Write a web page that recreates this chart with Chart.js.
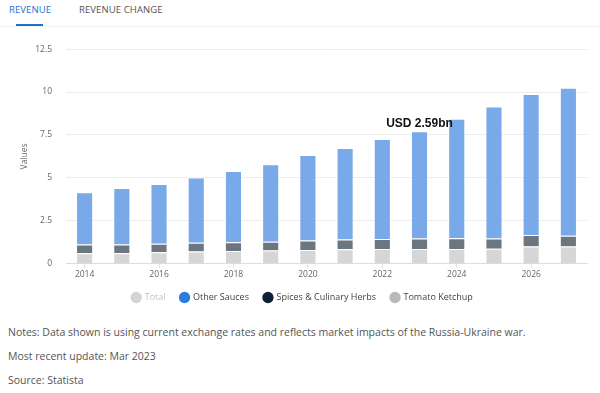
<!DOCTYPE html>
<html>
<head>
<meta charset="utf-8">
<script src="https://cdn.jsdelivr.net/npm/chart.js@4.4.0/dist/chart.umd.min.js"></script>
<style>
  html, body { margin: 0; padding: 0; background: #fff; }
  body { width: 600px; height: 393px; position: relative; overflow: hidden; font-family: "Open Sans", sans-serif; }
  .tabs { position: absolute; left: 0; top: 0; width: 600px; height: 26px; border-bottom: 1px solid #f0f0f0; }
  .tab { position: absolute; top: 3px; font-size: 9.5px; letter-spacing: 0.1px; color: #555; }
  .tab.active { color: #1f6fd1; }
  .underline { position: absolute; left: 16px; top: 24px; width: 27px; height: 2px; background: #1f6fd1; }
  .chart-box { position: absolute; left: 0; top: 30px; width: 600px; height: 284px; }
  .notes { position: absolute; left: 8px; font-size: 10.5px; color: #555; white-space: nowrap; }
</style>
</head>
<body>
<div class="tabs">
  <span class="tab active" style="left:9px">REVENUE</span>
  <span class="tab" style="left:79px">REVENUE CHANGE</span>
  <div class="underline"></div>
</div>
<div class="chart-box"><canvas id="chart" width="600" height="284"></canvas></div>
<div class="notes" style="top:325px">Notes: Data shown is using current exchange rates and reflects market impacts of the Russia-Ukraine war.</div>
<div class="notes" style="top:349px">Most recent update: Mar 2023</div>
<div class="notes" style="top:373px">Source: Statista</div>
<script>
// values (USD bn)
const years = ['2014', '2015', '2016', '2017', '2018', '2019', '2020', '2021', '2022', '2023', '2024', '2025', '2026', '2027'];
const tomatoKetchup = [0.62, 0.62, 0.67, 0.71, 0.75, 0.77, 0.80, 0.84, 0.86, 0.86, 0.86, 0.88, 1.00, 1.00];
const spicesHerbs = [0.50, 0.50, 0.50, 0.52, 0.50, 0.52, 0.56, 0.58, 0.59, 0.62, 0.63, 0.60, 0.67, 0.63];
const otherSauces = [3.05, 3.30, 3.48, 3.80, 4.16, 4.51, 4.98, 5.32, 5.81, 6.24, 6.96, 7.68, 8.22, 8.62];
const totals = [4.17, 4.42, 4.65, 5.03, 5.41, 5.80, 6.34, 6.74, 7.26, 7.72, 8.45, 9.16, 9.89, 10.25];
const yTicks = [0, 2.5, 5, 7.5, 10, 12.5];

const calloutText = 'USD 2.59bn';
const calloutYear = '2023';

const tickFont = { family: 'Open Sans', size: 8.5 };

// label above the bar of the chosen year
const calloutPlugin = {
    id: 'callout',
    afterDatasetsDraw: (chart) => {
        const idx = years.indexOf(calloutYear);
        const x = chart.scales.x.getPixelForValue(idx);
        const y = chart.scales.y.getPixelForValue(totals[idx]);
        const ctx = chart.ctx;
        ctx.save();
        ctx.font = 'bold 12px "Liberation Sans", Arial, sans-serif';
        ctx.fillStyle = '#111';
        ctx.textAlign = 'center';
        ctx.textBaseline = 'middle';
        ctx.fillText(calloutText, x, y - 8);
        ctx.restore();
    }
};

new Chart(document.getElementById('chart'), {
    type: 'bar',
    data: {
        labels: years,
        datasets: [
            {
                label: 'Tomato Ketchup',
                data: tomatoKetchup,
                backgroundColor: '#d6d6d6',
                legendColor: '#b9b9b9'
            },
            {
                label: 'Spices & Culinary Herbs',
                data: spicesHerbs,
                backgroundColor: '#6c7681',
                legendColor: '#0e2138'
            },
            {
                label: 'Other Sauces',
                data: otherSauces,
                backgroundColor: '#79a9e9',
                legendColor: '#2a7ddb'
            },
            {
                label: 'Total',
                data: totals,
                hidden: true,
                backgroundColor: '#cccccc',
                legendColor: '#d4d4d4',
                legendText: '#c4c4c4'
            }
        ]
    },
    options: {
        responsive: false,
        animation: false,
        maintainAspectRatio: false,
        layout: {
            padding: { top: 16, right: 13, left: 18, bottom: 2 }
        },
        datasets: {
            bar: {
                categoryPercentage: 1,
                barPercentage: 0.46,
                borderColor: '#ffffff',
                borderWidth: 1,
                borderSkipped: 'start'
            }
        },
        scales: {
            x: {
                stacked: true,
                afterFit: (scale) => {
                    scale.height = scale.height - 4;
                },
                grid: {
                    offset: false,
                    drawOnChartArea: false,
                    drawTicks: true,
                    tickLength: 4,
                    color: (c) => (c.index % 2 === 0 ? '#e2e2e2' : 'rgba(0,0,0,0)')
                },
                border: { display: true, color: '#dddddd' },
                ticks: {
                    autoSkip: false,
                    maxRotation: 0,
                    padding: 2,
                    color: '#666',
                    font: tickFont,
                    callback: function(value, index) {
                        return index % 2 === 0 ? years[index] : '';
                    }
                }
            },
            y: {
                stacked: true,
                min: 0,
                max: 12.5,
                afterBuildTicks: (scale) => {
                    scale.ticks = yTicks.map(v => ({ value: v }));
                },
                afterFit: (scale) => {
                    scale.width = 48;
                },
                grid: {
                    drawTicks: false,
                    color: '#ebebeb'
                },
                border: { display: false },
                ticks: {
                    padding: 14,
                    color: '#666',
                    font: tickFont
                },
                title: {
                    display: true,
                    text: 'Values',
                    color: '#666',
                    font: { family: 'Open Sans', size: 8.5 },
                    padding: { top: 1, bottom: 0 }
                }
            }
        },
        plugins: {
            tooltip: { enabled: false },
            legend: {
                position: 'bottom',
                onClick: () => {},
                labels: {
                    usePointStyle: true,
                    boxWidth: 8,
                    boxHeight: 8,
                    padding: 15,
                    font: { family: 'Open Sans', size: 9 },
                    color: '#444',
                    generateLabels: (chart) => chart.data.datasets.map((ds, i) => ({
                        text: ds.label,
                        fillStyle: ds.legendColor,
                        strokeStyle: ds.legendColor,
                        lineWidth: 0,
                        pointStyle: 'circle',
                        fontColor: ds.legendText || '#444',
                        hidden: false,
                        datasetIndex: i
                    })).reverse()
                }
            }
        }
    },
    plugins: [calloutPlugin]
});
</script>
</body>
</html>
